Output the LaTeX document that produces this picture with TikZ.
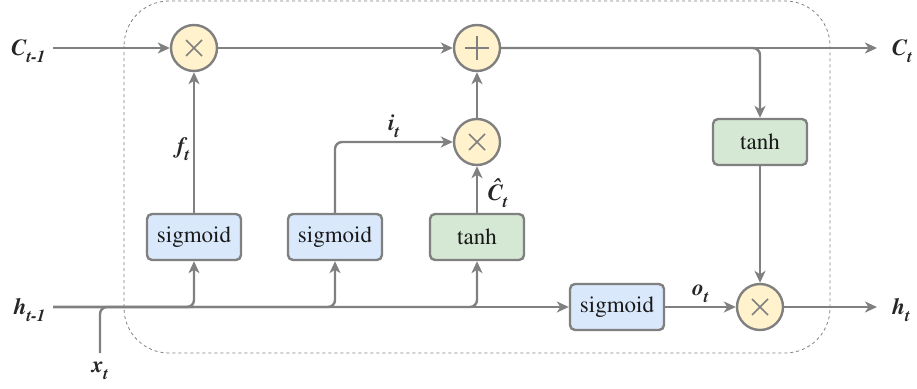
\documentclass[tikz,border=0pt]{standalone}
\usepackage[T1]{fontenc}
\usepackage{times}
\usetikzlibrary{calc,positioning,arrows.meta}
\definecolor{linegray}{HTML}{808080}
\definecolor{opfill}{HTML}{FFF2CC}
\definecolor{sigfill}{HTML}{DAE8FC}
\definecolor{tanhfill}{HTML}{D5E8D4}
\newcommand{\lsub}[1]{\raisebox{-0.3em}{\fontsize{17}{17}\selectfont #1}}

\begin{document}
\begin{tikzpicture}[x=1pt,y=-1pt,node distance=47pt,auto,>={Stealth[length=12pt,width=11pt,inset=3.5pt]},
	line width=2.4pt,draw=linegray,
	op/.style={circle,draw=linegray,fill=opfill,minimum size=46pt,inner sep=0pt},
	gate/.style={rectangle,rounded corners=5pt,draw=linegray,minimum width=94pt,minimum height=46pt,font=\fontsize{23}{25}\selectfont,text=black!90},
	siggate/.style={gate,fill=sigfill},
	tanhgate/.style={gate,fill=tanhfill},
	lbl/.style={font=\fontsize{23}{25}\selectfont\bfseries\itshape,text=black!85}]
	\useasboundingbox (0,0) rectangle (917,388);
	\draw[dashed,line width=0.8pt,dash pattern=on 3pt off 3pt,rounded corners=45pt] (124,1) rectangle (830,353);
	% operators
	\node[op] (mf) at (194,48) {};
	\node[op] (ad) at (477,48) {};
	\node[op] (mi) at (477,142) {};
	\node[op] (mo) at (760,307) {};
	% gates
	\node[siggate] (s1) at (194,237) {sigmoid};
	\node[siggate] (s2) at (335,237) {sigmoid};
	\node[tanhgate] (tc) at (477,237) {tanh};
	\node[siggate] (s3) at (617,307) {sigmoid};
	\node[tanhgate] (tb) at (760,142) {tanh};
	% ends
	\coordinate (cin) at (53,48);
	\coordinate (cout) at (877,48);
	\coordinate (hin) at (53,307);
	\coordinate (hout) at (877,307);
	\coordinate (xin) at (100,353);
	\node[lbl,anchor=east] (cinl) at (50,51) {C\lsub{t-1}};
	\node[lbl,anchor=east] (hinl) at (50,310) {h\lsub{t-1}};
	\node[lbl] (coutl) at (902,51) {C\lsub{t}};
	\node[lbl] (houtl) at (901,310) {h\lsub{t}};
	\node[lbl] (xinl) at (100,371) {x\lsub{t}};
	% symbols
	\foreach \n in {mf,mi,mo} {
		\draw[line width=1.5pt] ($(\n)+(-8,-8)$) -- ($(\n)+(8,8)$);
		\draw[line width=1.5pt] ($(\n)+(-8,8)$) -- ($(\n)+(8,-8)$);
	}
	\draw[line width=1.5pt] ($(ad)+(-12,0)$) -- ($(ad)+(12,0)$);
	\draw[line width=1.5pt] ($(ad)+(0,-12)$) -- ($(ad)+(0,12)$);
	% cell line
	\draw[->] (cin) -- (mf);
	\draw[->] (mf) -- (ad);
	\draw[->] (ad) -- (cout);
	\draw[->,rounded corners=7pt] (ad.east) -| (tb.north);
	\draw[->] (mi) -- (ad);
	\draw[->] (tc) -- node[lbl,right=6pt,pos=0.42]{\^{C}\lsub{t}} (mi);
	\draw[->,rounded corners=7pt] (s2.north) |- node[lbl,above,pos=0.75]{i\lsub{t}} (mi.west);
	\draw[->] (s1) -- node[lbl,left,pos=0.45]{f\lsub{t}} (mf);
	\draw[->] (tb) -- (mo);
	% hidden line
	\draw[->] (hin) -- (s3);
	\draw[->] (s3) -- node[lbl,above]{o\lsub{t}} (mo);
	\draw[->] (mo) -- (hout);
	\draw[rounded corners=7pt] (xin) |- (s1.south |- hin);
	\draw[->,rounded corners=7pt] (hin) -| (s1.south);
	\draw[->,rounded corners=7pt] (hin) -| (s2.south);
	\draw[->,rounded corners=7pt] (hin) -| (tc.south);
\end{tikzpicture}
\end{document}
